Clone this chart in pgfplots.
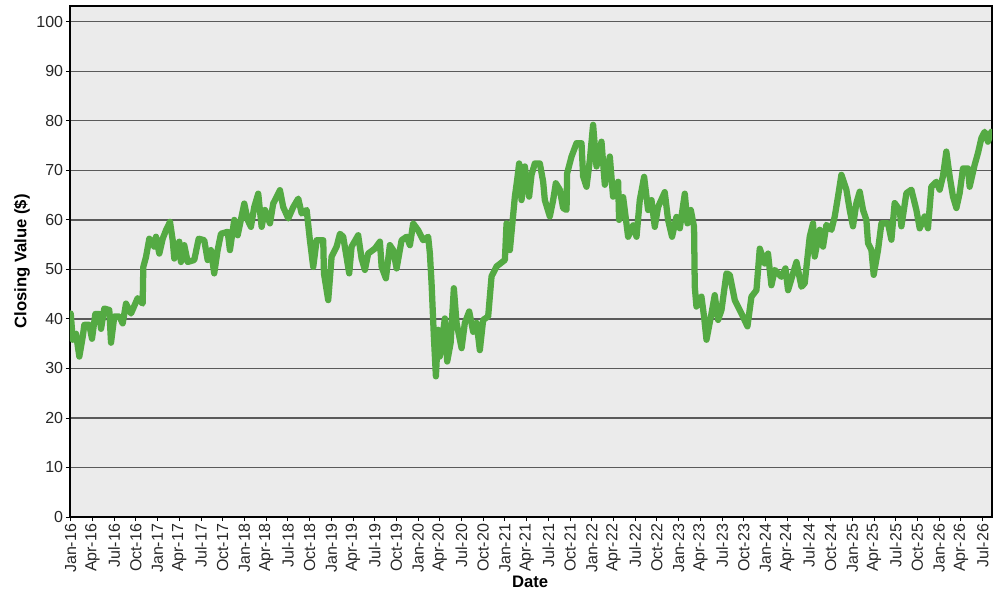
\documentclass[border=0pt]{standalone}
\usepackage{pgfplots}
\pgfplotsset{compat=1.18}
\usepackage{fontspec}
\setmainfont{Liberation Sans}
\definecolor{bgc}{HTML}{EBEBEB}
\definecolor{linec}{HTML}{54AA43}
\definecolor{gridc}{HTML}{5A5A5A}
\begin{document}
\begin{tikzpicture}
\useasboundingbox (-52.5pt,-62.25pt) rectangle (697.5pt,387.75pt);
\begin{axis}[
  scale only axis,
  width=691.5pt, height=383.25pt,
  xmin=-0.1, xmax=127.3, ymin=0, ymax=103.2,
  axis background/.style={fill=bgc},
  axis line style={black, line width=0.9pt},
  ytick={0,10,...,100},
  xtick={0,3,...,126},
  xticklabels={Jan-16,Apr-16,Jul-16,Oct-16,Jan-17,Apr-17,Jul-17,Oct-17,Jan-18,Apr-18,Jul-18,Oct-18,Jan-19,Apr-19,Jul-19,Oct-19,Jan-20,Apr-20,Jul-20,Oct-20,Jan-21,Apr-21,Jul-21,Oct-21,Jan-22,Apr-22,Jul-22,Oct-22,Jan-23,Apr-23,Jul-23,Oct-23,Jan-24,Apr-24,Jul-24,Oct-24,Jan-25,Apr-25,Jul-25,Oct-25,Jan-26,Apr-26,Jul-26},
  tick align=outside,
  major tick length=3pt,
  tick style={black, line width=0.7pt},
  xtick pos=bottom, ytick pos=left,
  ymajorgrids,
  grid style={gridc, line width=0.9pt},
  /pgf/number format/assume math mode=true,
  tick label style={font=\fontsize{12}{14}\selectfont, text=black!85},
  xticklabel style={rotate=90, anchor=east, inner sep=2pt},
  yticklabel style={inner sep=2pt},
  every axis y label/.style={at={(axis description cs:-0.052,0.5)}, rotate=90, anchor=center, font=\fontsize{12.5}{14}\selectfont\bfseries},
  every axis x label/.style={at={(axis description cs:0.499,-0.127)}, anchor=center, font=\fontsize{12.5}{14}\selectfont\bfseries},
  ylabel={Closing Value (\$)},
  xlabel={Date},
  clip=true,
]
\addplot[color=linec, line width=4.7pt, line join=round, line cap=round] coordinates {
(0.00,41.1)(0.28,35.8)(0.73,37)(1.19,32.4)(1.66,36.4)(1.88,38.8)(2.57,38.8)(2.94,36)(3.40,41)(3.95,41)(4.19,38)(4.64,42.1)(5.33,41.8)(5.57,35.2)(6.02,40.5)(6.71,40.5)(7.18,39.1)(7.64,43.1)(8.33,41.1)(9.25,44.2)(9.94,43.1)(10.03,50.5)(10.40,52.5)(10.86,56.2)(11.55,54.6)(11.78,56.6)(12.24,53.2)(12.71,56.2)(13.16,57.9)(13.72,59.6)(14.09,55.9)(14.31,52.2)(15.00,55.6)(15.23,51.5)(15.69,54.9)(16.16,51.5)(17.07,51.9)(17.68,56.2)(18.45,55.9)(18.92,51.9)(19.38,53.9)(19.83,49.2)(20.30,53.9)(20.76,57.2)(21.69,57.6)(22.00,53.9)(22.60,60)(23.07,56.9)(23.98,63.3)(24.45,60)(24.90,58.6)(25.36,62.6)
(25.91,65.3)(26.38,58.6)(26.84,62)(27.53,59.3)(27.98,63.3)(28.91,66)(29.36,62.6)(30.06,60.3)(30.75,62.6)(31.44,64.3)(31.91,61.3)(32.60,62)(33.05,55.9)(33.51,50.5)(33.98,55.9)(34.89,55.9)(34.99,49.2)(35.58,43.8)(36.05,52.6)(36.74,54.6)(37.20,57.2)(37.65,56.6)(38.48,49.2)(38.81,54.6)(39.72,56.9)(40.19,52.2)(40.65,49.9)(41.10,53.2)(42.03,54.2)(42.72,55.6)(42.96,50.5)(43.55,48.2)(44.10,54.9)(44.56,53.9)(45.03,50.2)(45.72,55.9)(46.41,56.6)(46.87,54.9)(47.32,59.3)(48.01,57.9)(48.70,55.9)(49.39,56.6)(49.63,53.2)(49.86,47.2)(50.18,36.4)(50.46,28.4)
(50.77,37.8)(51.00,32.4)(51.70,40.1)(52.02,31.4)(52.49,35.1)(52.94,46.2)(53.31,39.2)(54.01,34.1)(54.46,39.2)(55.06,41.5)(55.61,37.4)(56.08,39.2)(56.53,33.7)(56.99,39.8)(57.68,40.5)(58.15,48.6)(58.84,50.6)(59.99,51.9)(60.22,59.3)(60.68,53.9)(61.37,64.7)(61.69,68.1)(61.96,71.4)(62.29,64)(62.75,70.8)(62.98,68.1)(63.34,64.7)(63.67,69.1)(64.13,71.4)(64.82,71.4)(65.28,67.7)(65.51,64)(66.20,60.7)(66.66,64)(67.03,67.4)(67.58,66.1)(68.04,62.4)(68.51,62)(68.59,69.4)(69.20,72.8)(69.89,75.5)(70.58,75.5)(70.80,68.8)(71.27,66.7)(71.73,72.1)(72.18,79.2)(72.65,70.8)(73.34,75.8)(73.80,67.1)(74.49,72.8)(74.94,64.7)(75.64,67.7)(75.77,60)
(76.33,64.6)(77.02,56.6)(77.71,58.9)(78.18,56.6)(78.63,64)(79.23,68.7)(79.78,62)(80.25,64)(80.70,58.6)(81.16,62.6)(82.08,65.6)(82.54,60)(83.09,56.6)(83.70,60.6)(84.16,58.3)(84.85,65.3)(85.22,59.3)(85.68,62)(86.13,58.6)(86.23,46.5)(86.46,42.5)(87.15,44.5)(87.51,40.5)(87.85,35.8)(88.54,41.1)(88.99,44.8)(89.45,39.8)(89.92,41.8)(90.61,49.2)(91.06,48.9)(91.76,43.8)(92.68,41.1)(93.51,38.5)(94.06,44.5)(94.75,45.8)(95.21,54.2)(95.90,51.2)(96.35,53.2)(96.82,46.8)(97.28,49.9)(98.20,48.5)(98.76,50.2)(99.12,45.8)(100.28,51.5)(100.97,46.5)
(101.42,47.2)(102.11,56.6)(102.57,59.3)(102.80,52.6)(103.49,58)(103.95,54.6)(104.42,59)(105.11,58)(105.57,60.7)(106.02,64.7)(106.49,69.1)(107.18,66.1)(107.64,62)(108.09,58.7)(108.56,63.4)(109.02,65.7)(109.48,62)(109.94,60)(110.17,55.3)(110.64,53.9)(110.95,48.9)(111.55,53.9)(112.02,59.3)(112.93,59.3)(113.40,56)(113.85,63.4)(114.54,62)(114.78,58.7)(115.47,65.4)(116.16,66.1)(116.85,62)(117.31,58.3)(118.00,60.7)(118.45,58.3)(118.92,66.7)(119.61,67.7)(120.07,66.1)(120.52,68.8)(120.99,73.8)(121.45,68.8)(121.91,64.7)(122.38,62.4)(122.83,65.4)(123.29,70.4)(123.98,70.4)(124.21,66.7)(124.90,71.1)(125.36,73.5)(125.83,76.5)(126.28,77.8)(126.74,75.8)(127.21,77.8)
};
\end{axis}
\end{tikzpicture}
\end{document}
